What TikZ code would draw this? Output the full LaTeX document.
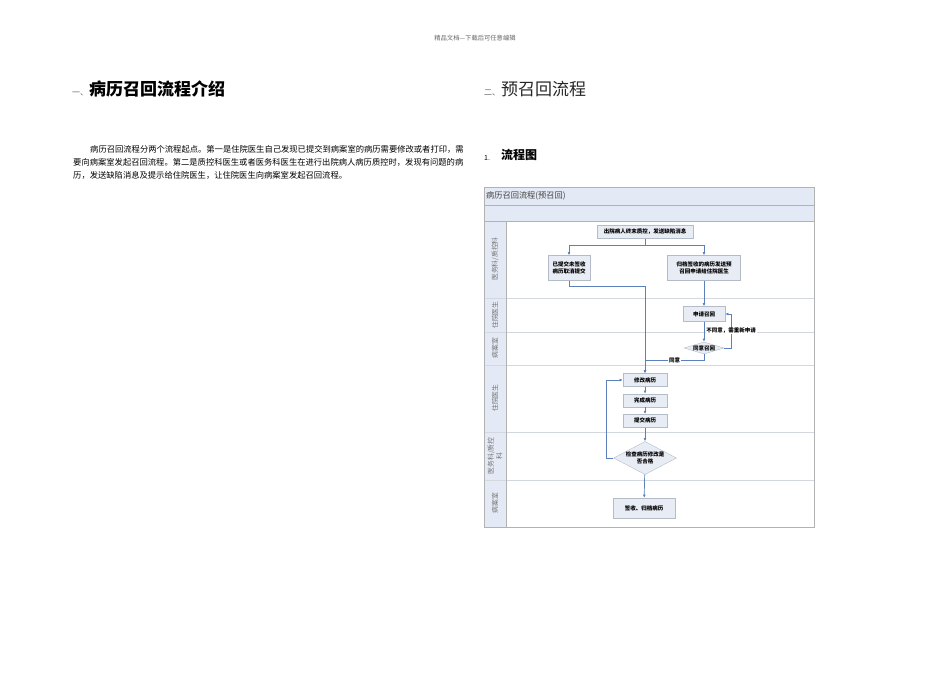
\documentclass[tikz,border=0pt]{standalone}
\usepackage{fontspec}
\setmainfont{Noto Sans CJK SC}
\usetikzlibrary{positioning,shapes.geometric,arrows.meta}
\definecolor{flow}{HTML}{5B80BC}
\definecolor{boxfill}{HTML}{E8ECF4}
\definecolor{boxdraw}{HTML}{B4BCC8}
\definecolor{barfill}{HTML}{E4EAF5}
\definecolor{lanegray}{HTML}{D3D7DE}
\tikzset{
  op/.style={rectangle, minimum width=44pt, minimum height=13pt, inner sep=1pt, align=center, draw=boxdraw, fill=boxfill, font=\fontsize{5.5}{7.5}\selectfont\bfseries},
  cn/.style={diamond, aspect=3.3, inner sep=0pt, align=center, draw=boxdraw, fill=boxfill, font=\fontsize{5.5}{7.5}\selectfont\bfseries},
  lane/.style={rotate=90, align=center, text=black!55, font=\fontsize{6.8}{8.5}\selectfont},
  fl/.style={draw=flow, line width=0.7pt, -{Latex[length=3.2pt,width=2.8pt]}},
  lbl/.style={fill=white, inner sep=0.6pt, font=\fontsize{5.5}{6.5}\selectfont\bfseries},
  node distance=7pt
}
\begin{document}
\begin{tikzpicture}[x=1pt,y=-1pt]
	\useasboundingbox (0,0) rectangle (950,672);
	% page text
	\node[text=black!60, font=\fontsize{6.3}{7}\selectfont] (pagehead) at (475,38) {精品文档---下载后可任意编辑};
	\node[anchor=base west, inner sep=0, text=black!60, font=\fontsize{8}{9}\selectfont] (num1) at (72,95) {一、};
	\node[anchor=west, inner sep=0, font=\fontsize{17}{20}\selectfont\bfseries] (head1) at (89,89) {病历召回流程介绍};
	\node[anchor=north west, align=left, inner sep=0, font=\fontsize{8.3}{13}\selectfont] (intro) at (73,145)
	  {\hspace*{17pt}病历召回流程分两个流程起点。第一是住院医生自己发现已提交到病案室的病历需要修改或者打印，需\\
	   要向病案室发起召回流程。第二是质控科医生或者医务科医生在进行出院病人病历质控时，发现有问题的病\\
	   历，发送缺陷消息及提示给住院医生，让住院医生向病案室发起召回流程。};
	\node[anchor=base west, inner sep=0, text=black!60, font=\fontsize{8}{9}\selectfont] (num2) at (484,95) {二、};
	\node[anchor=west, inner sep=0, text=black!85, font=\fontsize{17}{20}\selectfont] (head2) at (501,89) {预召回流程};
	\node[anchor=base west, inner sep=0, font=\fontsize{7}{8}\selectfont] (num3) at (484,160) {1.};
	\node[anchor=west, inner sep=0, font=\fontsize{12}{14}\selectfont\bfseries] (head3) at (501,155) {流程图};
	%
	% swimlane frame
	\fill[barfill] (484,187) rectangle (814,221);
	\fill[barfill] (484,221) rectangle (506,527);
	\foreach \y in {298,332,365,432,480} \draw[lanegray] (484,\y) -- (814,\y);
	\draw[black!30] (484,205) -- (814,205);
	\draw[black!30] (484,221) -- (814,221);
	\draw[black!30] (506,221) -- (506,527);
	\draw[black!30] (484,187) rectangle (814,527);
	\node[anchor=west, inner sep=0, text=black!75, font=\fontsize{8.2}{9}\selectfont] (title) at (486,196) {病历召回流程(预召回)};
	\node[lane] (lane1) at (495,259) {医务科/质控科};
	\node[lane] (lane2) at (495,315) {住院医生};
	\node[lane] (lane3) at (495,348) {病案室};
	\node[lane] (lane4) at (495,398) {住院医生};
	\node[lane] (lane5) at (495,456) {医务科/质控\\科};
	\node[lane] (lane6) at (495,503) {病案室};
	%
	% steps
	\node[op, minimum width=96pt] (n1) at (645,232) {出院病人终末质控，发送缺陷消息};
	\node[op, minimum width=42pt, minimum height=25pt] (n2) at (569,268) {已提交未签收\\病历取消提交};
	\node[op, minimum width=73pt, minimum height=25pt] (n3) at (704,268) {归档签收的病历发送预\\召回申请给住院医生};
	\node[op, minimum width=42pt, minimum height=15pt] (n4) at (704,314) {申请召回};
	\node[cn, minimum width=40pt, minimum height=12pt] (n5) at (704,348) {同意召回};
	\node[op] (n6) at (645,380) {修改病历};
	\node[op, below=of n6] (n7) {完成病历};
	\node[op, below=of n7] (n8) {提交病历};
	\node[cn, aspect=1.9] (n9) at (645,458) {检查病历修改是\\否合格};
	\node[op, minimum width=62pt, minimum height=20pt] (n10) at (644,508) {签收、归档病历};
	%
	\draw[fl] (n1.south) -- ++(0,7) coordinate (split) -| (n2.north);
	\draw[fl] (split) -| (n3.north);
	\draw[fl] (n2.south) -- ++(0,6) -| (n6.north);
	\draw[fl] (n3) -- (n4);
	\draw[fl] (n4) -- (n5);
	\draw[fl] (n5.east) -- ++(7,0) |- node[lbl, pos=0.25] (no) {不同意，需重新申请} (n4.east);
	\draw[fl] (n5.south) -- ++(0,6) -| node[lbl, pos=0.25] (yes) {同意} (n6.north);
	\draw[fl] (n6) -- (n7);
	\draw[fl] (n7) -- (n8);
	\draw[fl] (n8) -- (n9);
	\draw[fl] (n9.west) -- ++(-7,0) |- (n6.west);
	\draw[fl] (n9) -- (n10);
\end{tikzpicture}
\end{document}
